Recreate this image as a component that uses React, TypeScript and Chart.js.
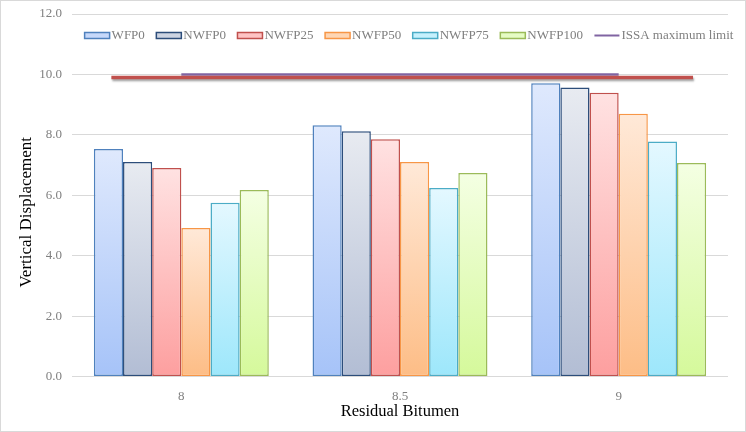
import React, { useEffect, useRef } from 'react';
import { Chart, registerables } from 'chart.js';

Chart.register(...registerables);

// ---- data ----
const categories = ['8', '8.5', '9'];
const seriesNames = ['WFP0', 'NWFP0', 'NWFP25', 'NWFP50', 'NWFP75', 'NWFP100'];
const WFP0 = [7.53, 8.32, 9.71];
const NWFP0 = [7.1, 8.12, 9.57];
const NWFP25 = [6.9, 7.85, 9.39];
const NWFP50 = [4.92, 7.1, 8.7];
const NWFP75 = [5.75, 6.24, 7.78];
const NWFP100 = [6.17, 6.74, 7.07];
const issaLabel = 'ISSA maximum limit';
const issaLimit = [10, 10, 10];
// hand-drawn red limit shape, in category-index units
const limitShapeX = [-0.32, 2.34];
const limitShapeY = [9.9, 9.9];
const yMin = 0;
const yMax = 12;
const yStep = 2;
const xTitle = 'Residual Bitumen';
const yTitle = 'Vertical Displacement';

const seriesValues = [WFP0, NWFP0, NWFP25, NWFP50, NWFP75, NWFP100];

// ---- styles ----
const FONT = '"Liberation Serif", "Times New Roman", serif';
const borders = ['#4F81BD', '#2C4D7A', '#C0504D', '#F79646', '#4BACC6', '#9BBB59'];
const topColors = ['#dfe9fd', '#e8ebf1', '#ffe2e2', '#ffe9d8', '#e4f8ff', '#f4ffe3'];
const bottomColors = ['#a6c3f8', '#b2bdd4', '#fd9f9f', '#fdbd86', '#9de7fb', '#d5f99b'];
const legendFills = ['#c6d8fa', '#cdd4e2', '#fec4c4', '#fed6b4', '#c6f1fd', '#e6fcc4'];
const issaColor = '#8064A2';
const shapeColor = '#C0504D';

function gradientFor(i: number) {
  return (ctx: any) => {
    const chart = ctx.chart;
    const scales = chart.scales;
    if (!chart.chartArea || !scales || !scales.y || ctx.raw == null) return bottomColors[i];
    const yTop = scales.y.getPixelForValue(ctx.raw);
    const yBase = scales.y.getPixelForValue(0);
    if (!isFinite(yTop) || !isFinite(yBase) || yTop === yBase) return bottomColors[i];
    const g = chart.ctx.createLinearGradient(0, yTop, 0, yBase);
    g.addColorStop(0, topColors[i]);
    g.addColorStop(1, bottomColors[i]);
    return g;
  };
}

// red limit shape drawn through the chart's own scales
const shapePlugin = {
  id: 'limitShape',
  afterDatasetsDraw(chart: any) {
    const { ctx, scales } = chart;
    const xs = scales.x;
    const ys = scales.y;
    ctx.save();
    ctx.shadowColor = 'rgba(0,0,0,0.35)';
    ctx.shadowOffsetY = 2;
    ctx.shadowOffsetX = 1;
    ctx.shadowBlur = 2;
    ctx.strokeStyle = shapeColor;
    ctx.lineWidth = 3.5;
    ctx.beginPath();
    limitShapeX.forEach((xv, i) => {
      const px = xs.getPixelForValue(xv);
      const py = ys.getPixelForValue(limitShapeY[i]);
      if (i === 0) ctx.moveTo(px, py);
      else ctx.lineTo(px, py);
    });
    ctx.stroke();
    ctx.restore();
  },
};

// y-axis title, placed like the original (slightly below the plot centre)
const yTitlePlugin = {
  id: 'yTitle',
  afterDraw(chart: any) {
    const { ctx, chartArea } = chart;
    ctx.save();
    ctx.translate(27, (chartArea.top + chartArea.bottom) / 2 + 17);
    ctx.rotate(-Math.PI / 2);
    ctx.font = '17px ' + FONT;
    ctx.fillStyle = '#000000';
    ctx.textAlign = 'center';
    ctx.textBaseline = 'middle';
    ctx.fillText(yTitle, 0, 0);
    ctx.restore();
  },
};

const legendPlugin = {
  id: 'customLegend',
  afterDatasetsDraw(chart: any) {
    const { ctx, chartArea } = chart;
    ctx.save();
    ctx.font = '13px ' + FONT;
    const boxW = 25;
    const gap = 2;
    const itemGap = 11.5;
    const items = chart.data.datasets
      .map((d: any, idx: number) => ({ d, idx }))
      .filter((it: any) => it.d.label)
      .map((it: any) => ({ ...it, w: boxW + gap + ctx.measureText(it.d.label).width }));
    const total = items.reduce((s: number, it: any) => s + it.w, 0) + itemGap * (items.length - 1);
    let x = (chartArea.left + chartArea.right) / 2 + 9 - total / 2;
    const y = chartArea.top + 21.5;
    ctx.textBaseline = 'middle';
    ctx.textAlign = 'left';
    for (const it of items) {
      if (it.d.type === 'line') {
        ctx.strokeStyle = issaColor;
        ctx.lineWidth = 2;
        ctx.beginPath();
        ctx.moveTo(x, y);
        ctx.lineTo(x + boxW, y);
        ctx.stroke();
      } else {
        ctx.fillStyle = legendFills[it.idx];
        ctx.fillRect(x, y - 3, boxW, 6);
        ctx.strokeStyle = borders[it.idx];
        ctx.lineWidth = 1.5;
        ctx.strokeRect(x, y - 3, boxW, 6);
      }
      ctx.fillStyle = '#7f7f7f';
      ctx.fillText(it.d.label, x + boxW + gap, y + 0.5);
      x += it.w + itemGap;
    }
    ctx.restore();
  },
};

const borderPlugin = {
  id: 'outerBorder',
  afterDraw(chart: any) {
    const c = chart.ctx;
    c.save();
    c.strokeStyle = '#d9d9d9';
    c.lineWidth = 1;
    c.strokeRect(0.5, 0.5, chart.width - 1, chart.height - 1);
    c.restore();
  },
};

export default function App() {
  const ref = useRef<HTMLCanvasElement | null>(null);

  useEffect(() => {
    document.body.style.margin = '0';
    const canvas = ref.current;
    if (!canvas) return;

    const barSets = seriesNames.map((name, i) => ({
      type: 'bar' as const,
      label: name,
      data: seriesValues[i],
      backgroundColor: gradientFor(i),
      borderColor: borders[i],
      borderWidth: 1.5,
      borderSkipped: false,
      categoryPercentage: 0.8,
      barPercentage: 1.0,
      order: 10,
    }));

    const chart = new Chart(canvas, {
      type: 'bar',
      data: {
        labels: categories,
        datasets: [
          ...barSets,
          {
            type: 'line',
            label: issaLabel,
            data: issaLimit,
            borderColor: issaColor,
            backgroundColor: issaColor,
            borderWidth: 2.5,
            pointRadius: 0,
            fill: false,
            order: 2,
          },
        ],
      },
      options: {
        responsive: false,
        animation: false,
        devicePixelRatio: 1,
        layout: { padding: { top: 14, left: 13, right: 18, bottom: 6 } },
        plugins: {
          legend: { display: false },
          tooltip: { enabled: false },
        },
        scales: {
          x: {
            type: 'category',
            offset: true,
            grid: { display: false, drawTicks: false },
            border: { display: false },
            ticks: { color: '#808080', font: { family: FONT, size: 13 }, padding: 12 },
            title: {
              display: true,
              text: xTitle,
              color: '#000000',
              font: { family: FONT, size: 16.5 },
              padding: { top: 0, bottom: 4 },
            },
            afterFit: (scale: any) => {
              scale.height = 49.5;
            },
          },
          y: {
            type: 'linear',
            min: yMin,
            max: yMax,
            grid: { color: '#d9d9d9', lineWidth: 1, drawTicks: false },
            border: { display: false },
            ticks: {
              stepSize: yStep,
              color: '#808080',
              font: { family: FONT, size: 13 },
              padding: 10,
              callback: (v: any) => Number(v).toFixed(1),
            },
            title: { display: false },
            afterFit: (scale: any) => {
              scale.width = 59;
              scale.paddingTop = 0;
              scale.paddingBottom = 0;
            },
          },
        },
      } as any,
      plugins: [shapePlugin, legendPlugin, yTitlePlugin, borderPlugin],
    });

    return () => chart.destroy();
  }, []);

  return (
    <div style={{ position: 'fixed', left: 0, top: 0, width: 746, height: 432, background: '#ffffff' }}>
      <canvas ref={ref} width={746} height={432} style={{ display: 'block', width: 746, height: 432 }} />
    </div>
  );
}
